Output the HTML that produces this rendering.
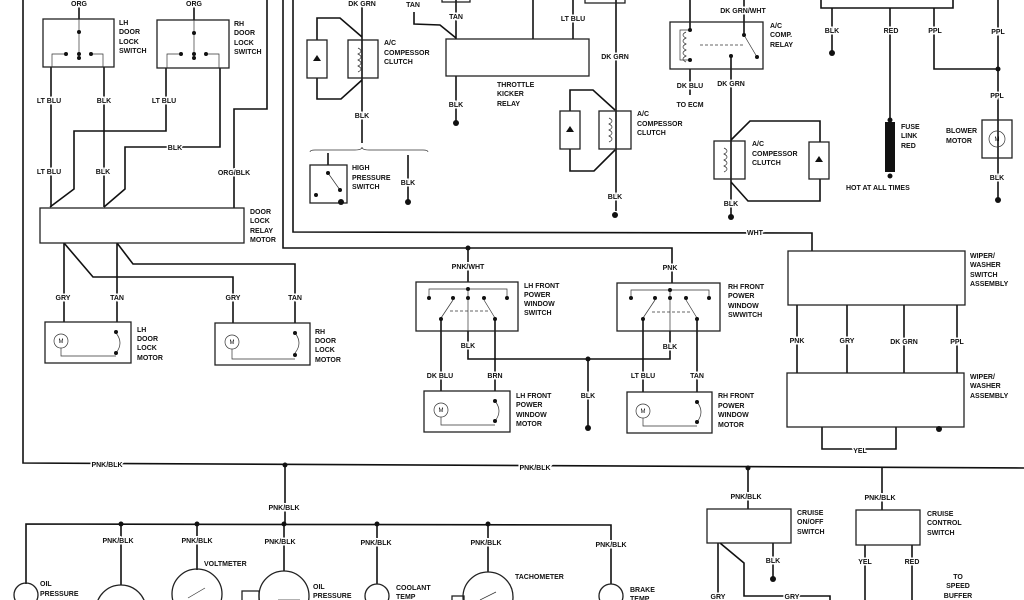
<!DOCTYPE html>
<html><head><meta charset="utf-8"><style>
html,body{margin:0;padding:0;background:#fff;width:1024px;height:600px;overflow:hidden;}
svg{display:block}
text{font-family:"Liberation Sans",sans-serif;font-size:7px;font-weight:bold;fill:#111;}
.l{stroke:#fff;stroke-width:3px;paint-order:stroke;}
.w{fill:none;stroke:#111;stroke-width:1.6}
.t{fill:none;stroke:#333;stroke-width:0.7}
.b{fill:none;stroke:#222;stroke-width:1.3}
.c{text-anchor:middle}
.m{font-size:6px;font-weight:normal;text-anchor:middle}
</style></head><body>
<svg width="1024" height="600" viewBox="0 0 1024 600" xmlns="http://www.w3.org/2000/svg" overflow="hidden">
<g class="w">
<polyline points="23,0 23,463 1024,468"/>
<polyline points="267,0 267,109 234,109 234,208"/>
<polyline points="283,0 283,248 672,248 672,283"/>
<polyline points="293,0 293,232 812,233 812,251"/>
<line x1="79" y1="6" x2="79" y2="19"/>
<line x1="51" y1="67" x2="51" y2="207"/>
<line x1="104" y1="67" x2="104" y2="207"/>
<line x1="194" y1="6" x2="194" y2="20"/>
<polyline points="166,68 166,131 74,131 74,189 50,207"/>
<polyline points="220,68 220,147 125,147 125,189 104,207"/>
<polyline points="64,243 64,322"/>
<polyline points="64,243 93,277 233,277 233,323"/>
<polyline points="117,243 117,322"/>
<polyline points="117,243 133,264 295,264 295,323"/>
<line x1="362" y1="0" x2="362" y2="143"/>
<polyline points="362,37 340,18 317,18 317,40"/>
<polyline points="317,78 317,99 341,99 362,80"/>
<line x1="328" y1="153" x2="328" y2="165"/>
<line x1="408" y1="155" x2="408" y2="200"/>
<line x1="456" y1="0" x2="456" y2="39"/>
<polyline points="414,12 414,24 440,25 456,38"/>
<line x1="533" y1="0" x2="533" y2="39"/>
<line x1="573" y1="0" x2="573" y2="39"/>
<line x1="616" y1="0" x2="616" y2="211"/>
<line x1="456" y1="76" x2="456" y2="121"/>
<polyline points="615,110 593,90 570,90 570,111"/>
<polyline points="570,149 570,171 594,171 615,150"/>
<line x1="690" y1="0" x2="690" y2="30"/>
<line x1="744" y1="0" x2="744" y2="35"/>
<line x1="690" y1="69" x2="690" y2="95"/>
<line x1="731" y1="56" x2="731" y2="215"/>
<polyline points="731,140 750,121 820,121 820,142"/>
<polyline points="820,179 820,201 748,201 731,182"/>
<polyline points="821,0 821,8 953,8 953,0"/>
<line x1="832" y1="8" x2="832" y2="52"/>
<line x1="890" y1="8" x2="890" y2="122"/>
<polyline points="934,8 934,69 998,69"/>
<line x1="998" y1="0" x2="998" y2="200"/>
<line x1="468" y1="248" x2="468" y2="282"/>
<line x1="441" y1="319" x2="441" y2="391"/>
<line x1="495" y1="319" x2="495" y2="391"/>
<polyline points="468,331 468,359 670,359 670,331"/>
<line x1="588" y1="359" x2="588" y2="428"/>
<line x1="643" y1="319" x2="643" y2="392"/>
<line x1="697" y1="319" x2="697" y2="392"/>
<line x1="797" y1="305" x2="797" y2="373"/>
<line x1="847" y1="305" x2="847" y2="373"/>
<line x1="904" y1="305" x2="904" y2="373"/>
<line x1="957" y1="305" x2="957" y2="373"/>
<polyline points="822,427 822,449 896,449 896,427"/>
<line x1="285" y1="465" x2="285" y2="524"/>
<polyline points="26,584 26,524 611,525 611,584"/>
<line x1="121" y1="524" x2="121" y2="585"/>
<line x1="197" y1="524" x2="197" y2="570"/>
<line x1="284" y1="524" x2="284" y2="571"/>
<line x1="377" y1="524" x2="377" y2="584"/>
<line x1="488" y1="524" x2="488" y2="572"/>
<line x1="748" y1="468" x2="748" y2="509"/>
<polyline points="882,468 882,510"/>
<line x1="773" y1="543" x2="773" y2="578"/>
<line x1="718" y1="543" x2="718" y2="600"/>
<polyline points="720,543 744,563 744,596 830,596 830,600"/>
<line x1="865" y1="545" x2="865" y2="600"/>
<line x1="912" y1="545" x2="912" y2="600"/>
</g>
<g class="b">
<rect x="43" y="19" width="71" height="48"/>
<rect x="157" y="20" width="72" height="48"/>
<rect x="40" y="208" width="204" height="35"/>
<rect x="45" y="322" width="86" height="41"/>
<rect x="215" y="323" width="95" height="42"/>
<rect x="348" y="40" width="30" height="38"/>
<rect x="307" y="40" width="20" height="38"/>
<rect x="310" y="165" width="37" height="38"/>
<rect x="446" y="39" width="143" height="37"/>
<rect x="442" y="-5" width="28" height="7"/>
<rect x="585" y="-5" width="40" height="8"/>
<rect x="599" y="111" width="32" height="38"/>
<rect x="560" y="111" width="20" height="38"/>
<rect x="670" y="22" width="93" height="47"/>
<rect x="714" y="141" width="31" height="38"/>
<rect x="809" y="142" width="20" height="37"/>
<rect x="982" y="120" width="30" height="38"/>
<rect x="416" y="282" width="102" height="49"/>
<rect x="617" y="283" width="103" height="48"/>
<rect x="424" y="391" width="86" height="41"/>
<rect x="627" y="392" width="85" height="41"/>
<rect x="788" y="251" width="177" height="54"/>
<rect x="787" y="373" width="177" height="54"/>
<rect x="707" y="509" width="84" height="34"/>
<rect x="856" y="510" width="64" height="35"/>
<circle cx="26" cy="595" r="12"/>
<circle cx="121" cy="610" r="25"/>
<circle cx="197" cy="594" r="25"/>
<circle cx="284" cy="596" r="25"/>
<circle cx="377" cy="596" r="12"/>
<circle cx="488" cy="597" r="25"/>
<circle cx="611" cy="596" r="12"/>
<rect x="242" y="591" width="17" height="12"/>
<rect x="452" y="596" width="12" height="8"/>
</g>
<rect x="885" y="122" width="10" height="50" fill="#111"/>
<g class="t">
<line x1="79" y1="19" x2="79" y2="58"/>
<polyline points="52,67 52,54 66,54"/><polyline points="103,67 103,54 91,54"/>
<line x1="194" y1="20" x2="194" y2="58"/>
<polyline points="167,68 167,54 181,54"/><polyline points="219,68 219,54 206,54"/>
<path d="M358,48 q6,3 0,6 q6,3 0,6 q6,3 0,6 q6,3 0,6"/>
<path d="M609,118 q6,3 0,6 q6,3 0,6 q6,3 0,6 q6,3 0,6"/>
<path d="M724,148 q6,3 0,6 q6,3 0,6 q6,3 0,6 q6,3 0,6"/>
<line x1="328" y1="173" x2="340" y2="190"/>
<path d="M310,152 q0,-2 5,-2 h40 q7,0 7,-3 q0,3 7,3 h54 q5,0 5,2"/>
<path d="M686,32 q-6,3 0,6 q-6,3 0,6 q-6,3 0,6 q-6,3 0,6 q-6,3 0,6"/>
<polyline points="690,30 680,30 680,60 690,60"/>
<line x1="700" y1="45" x2="744" y2="45" stroke-dasharray="3,2"/>
<line x1="744" y1="35" x2="757" y2="57"/>
<circle cx="997" cy="139" r="8"/>
<circle cx="61" cy="341" r="7"/><circle cx="232" cy="342" r="7"/>
<circle cx="441" cy="410" r="7"/><circle cx="643" cy="411" r="7"/>
<polyline points="61,348 61,356 116,356"/><polyline points="232,349 232,359 295,359"/>
<polyline points="441,417 441,425 495,425"/><polyline points="643,418 643,426 697,426"/>
<path d="M116,333 q8,10 0,20"/><path d="M295,333 q8,10 0,20"/>
<path d="M495,401 q8,10 0,20"/><path d="M697,402 q8,10 0,20"/>
<polyline points="429,298 429,289 507,289 507,298"/>
<line x1="468" y1="289" x2="468" y2="331"/>
<line x1="453" y1="300" x2="441" y2="318"/><line x1="484" y1="300" x2="495" y2="318"/>
<line x1="450" y1="311" x2="490" y2="311" stroke-dasharray="3,2"/>
<polyline points="631,298 631,290 709,290 709,298"/>
<line x1="670" y1="290" x2="670" y2="331"/>
<line x1="655" y1="300" x2="643" y2="318"/><line x1="686" y1="300" x2="697" y2="318"/>
<line x1="652" y1="312" x2="692" y2="312" stroke-dasharray="3,2"/>
<line x1="188" y1="598" x2="205" y2="588"/><line x1="278" y1="600" x2="300" y2="600"/>
<line x1="480" y1="600" x2="496" y2="592"/>
</g>
<g>
<text class="m" x="61" y="343">M</text><text class="m" x="232" y="344">M</text>
<text class="m" x="441" y="412">M</text><text class="m" x="643" y="413">M</text><text class="m" x="997" y="141">M</text>
</g>
<g fill="#111">
<polygon points="317,55 313,61 321,61"/><polygon points="570,126 566,132 574,132"/><polygon points="819,156 815,162 823,162"/>
<circle cx="79" cy="32" r="2"/><circle cx="66" cy="54" r="2"/><circle cx="79" cy="54" r="2"/><circle cx="91" cy="54" r="2"/><circle cx="79" cy="58" r="2"/>
<circle cx="194" cy="33" r="2"/><circle cx="181" cy="54" r="2"/><circle cx="194" cy="54" r="2"/><circle cx="206" cy="54" r="2"/><circle cx="194" cy="58" r="2"/>
<circle cx="328" cy="173" r="2"/><circle cx="340" cy="190" r="2"/><circle cx="341" cy="202" r="3"/><circle cx="316" cy="195" r="2"/>
<circle cx="408" cy="202" r="3"/><circle cx="456" cy="123" r="3"/><circle cx="615" cy="215" r="3"/><circle cx="731" cy="217" r="3"/>
<circle cx="690" cy="30" r="2"/><circle cx="690" cy="60" r="2"/><circle cx="744" cy="35" r="2"/><circle cx="757" cy="57" r="2"/><circle cx="731" cy="56" r="2"/>
<circle cx="832" cy="53" r="3"/><circle cx="890" cy="120" r="2.5"/><circle cx="890" cy="176" r="2.5"/><circle cx="998" cy="69" r="2.5"/><circle cx="998" cy="200" r="3"/>
<circle cx="116" cy="332" r="2"/><circle cx="116" cy="353" r="2"/><circle cx="295" cy="333" r="2"/><circle cx="295" cy="355" r="2"/>
<circle cx="495" cy="401" r="2"/><circle cx="495" cy="421" r="2"/><circle cx="697" cy="402" r="2"/><circle cx="697" cy="422" r="2"/>
<circle cx="468" cy="248" r="2.5"/><circle cx="588" cy="359" r="2.5"/><circle cx="588" cy="428" r="3"/>
<circle cx="468" cy="289" r="2"/><circle cx="429" cy="298" r="2"/><circle cx="453" cy="298" r="2"/><circle cx="468" cy="298" r="2"/><circle cx="484" cy="298" r="2"/><circle cx="507" cy="298" r="2"/><circle cx="441" cy="319" r="2"/><circle cx="495" cy="319" r="2"/>
<circle cx="670" cy="290" r="2"/><circle cx="631" cy="298" r="2"/><circle cx="655" cy="298" r="2"/><circle cx="670" cy="298" r="2"/><circle cx="686" cy="298" r="2"/><circle cx="709" cy="298" r="2"/><circle cx="643" cy="319" r="2"/><circle cx="697" cy="319" r="2"/>
<circle cx="939" cy="429" r="3"/>
<circle cx="285" cy="465" r="2.5"/><circle cx="748" cy="468" r="2.5"/>
<circle cx="121" cy="524" r="2.5"/><circle cx="197" cy="524" r="2.5"/><circle cx="284" cy="524" r="2.5"/><circle cx="377" cy="524" r="2.5"/><circle cx="488" cy="524" r="2.5"/>
<circle cx="773" cy="579" r="3"/>
</g>
<g class="l">
<text class="c" x="79" y="6">ORG</text><text class="c" x="194" y="6">ORG</text>
<text class="c" x="49" y="103">LT BLU</text><text class="c" x="104" y="103">BLK</text>
<text class="c" x="164" y="103">LT BLU</text>
<text class="c" x="175" y="150">BLK</text>
<text class="c" x="49" y="174">LT BLU</text><text class="c" x="103" y="174">BLK</text>
<text class="c" x="234" y="175">ORG/BLK</text>
<text class="c" x="63" y="300">GRY</text><text class="c" x="117" y="300">TAN</text>
<text class="c" x="233" y="300">GRY</text><text class="c" x="295" y="300">TAN</text>
<text class="c" x="362" y="6">DK GRN</text><text class="c" x="362" y="118">BLK</text>
<text class="c" x="408" y="185">BLK</text>
<text class="c" x="413" y="7">TAN</text><text class="c" x="456" y="19">TAN</text>
<text class="c" x="573" y="21">LT BLU</text><text class="c" x="615" y="59">DK GRN</text>
<text class="c" x="456" y="107">BLK</text><text class="c" x="615" y="199">BLK</text>
<text class="c" x="743" y="13">DK GRN/WHT</text>
<text class="c" x="690" y="88">DK BLU</text><text class="c" x="690" y="107">TO ECM</text>
<text class="c" x="731" y="86">DK GRN</text><text class="c" x="731" y="206">BLK</text>
<text class="c" x="832" y="33">BLK</text><text class="c" x="891" y="33">RED</text>
<text class="c" x="935" y="33">PPL</text><text class="c" x="998" y="34">PPL</text>
<text class="c" x="997" y="98">PPL</text><text class="c" x="997" y="180">BLK</text>
<text class="c" x="755" y="235">WHT</text>
<text class="c" x="468" y="269">PNK/WHT</text><text class="c" x="670" y="270">PNK</text>
<text class="c" x="468" y="348">BLK</text><text class="c" x="670" y="349">BLK</text>
<text class="c" x="440" y="378">DK BLU</text><text class="c" x="495" y="378">BRN</text>
<text class="c" x="588" y="398">BLK</text>
<text class="c" x="643" y="378">LT BLU</text><text class="c" x="697" y="378">TAN</text>
<text class="c" x="797" y="343">PNK</text><text class="c" x="847" y="343">GRY</text>
<text class="c" x="904" y="344">DK GRN</text><text class="c" x="957" y="344">PPL</text>
<text class="c" x="860" y="453">YEL</text>
<text class="c" x="107" y="467">PNK/BLK</text><text class="c" x="535" y="470">PNK/BLK</text>
<text class="c" x="284" y="510">PNK/BLK</text>
<text class="c" x="118" y="543">PNK/BLK</text><text class="c" x="197" y="543">PNK/BLK</text><text class="c" x="280" y="544">PNK/BLK</text><text class="c" x="376" y="545">PNK/BLK</text><text class="c" x="486" y="545">PNK/BLK</text><text class="c" x="611" y="547">PNK/BLK</text>
<text class="c" x="746" y="499">PNK/BLK</text><text class="c" x="880" y="500">PNK/BLK</text>
<text class="c" x="773" y="563">BLK</text>
<text class="c" x="865" y="564">YEL</text><text class="c" x="912" y="564">RED</text>
<text class="c" x="718" y="599">GRY</text><text class="c" x="792" y="599">GRY</text>
</g>
<g>
<text x="119" y="25">LH</text><text x="119" y="34">DOOR</text><text x="119" y="44">LOCK</text><text x="119" y="53">SWITCH</text>
<text x="234" y="26">RH</text><text x="234" y="35">DOOR</text><text x="234" y="45">LOCK</text><text x="234" y="54">SWITCH</text>
<text x="250" y="214">DOOR</text><text x="250" y="223">LOCK</text><text x="250" y="233">RELAY</text><text x="250" y="242">MOTOR</text>
<text x="137" y="332">LH</text><text x="137" y="341">DOOR</text><text x="137" y="350">LOCK</text><text x="137" y="360">MOTOR</text>
<text x="315" y="334">RH</text><text x="315" y="343">DOOR</text><text x="315" y="352">LOCK</text><text x="315" y="362">MOTOR</text>
<text x="384" y="45">A/C</text><text x="384" y="55">COMPESSOR</text><text x="384" y="64">CLUTCH</text>
<text x="352" y="170">HIGH</text><text x="352" y="180">PRESSURE</text><text x="352" y="189">SWITCH</text>
<text x="497" y="87">THROTTLE</text><text x="497" y="96">KICKER</text><text x="497" y="106">RELAY</text>
<text x="637" y="116">A/C</text><text x="637" y="126">COMPESSOR</text><text x="637" y="135">CLUTCH</text>
<text x="770" y="28">A/C</text><text x="770" y="37">COMP.</text><text x="770" y="47">RELAY</text>
<text x="752" y="146">A/C</text><text x="752" y="156">COMPESSOR</text><text x="752" y="165">CLUTCH</text>
<text x="901" y="129">FUSE</text><text x="901" y="138">LINK</text><text x="901" y="148">RED</text>
<text x="846" y="190">HOT AT ALL TIMES</text>
<text x="946" y="133">BLOWER</text><text x="946" y="143">MOTOR</text>
<text x="524" y="288">LH FRONT</text><text x="524" y="297">POWER</text><text x="524" y="306">WINDOW</text><text x="524" y="315">SWITCH</text>
<text x="728" y="289">RH FRONT</text><text x="728" y="298">POWER</text><text x="728" y="308">WINDOW</text><text x="728" y="317">SWWITCH</text>
<text x="516" y="398">LH FRONT</text><text x="516" y="407">POWER</text><text x="516" y="417">WINDOW</text><text x="516" y="426">MOTOR</text>
<text x="718" y="398">RH FRONT</text><text x="718" y="408">POWER</text><text x="718" y="417">WINDOW</text><text x="718" y="427">MOTOR</text>
<text x="970" y="258">WIPER/</text><text x="970" y="267">WASHER</text><text x="970" y="277">SWITCH</text><text x="970" y="286">ASSEMBLY</text>
<text x="970" y="379">WIPER/</text><text x="970" y="388">WASHER</text><text x="970" y="398">ASSEMBLY</text>
<text x="797" y="515">CRUISE</text><text x="797" y="524">ON/OFF</text><text x="797" y="534">SWITCH</text>
<text x="927" y="516">CRUISE</text><text x="927" y="525">CONTROL</text><text x="927" y="535">SWITCH</text>
<text class="c" x="958" y="579">TO</text><text class="c" x="958" y="588">SPEED</text><text class="c" x="958" y="598">BUFFER</text>
<text x="40" y="586">OIL</text><text x="40" y="596">PRESSURE</text>
<text x="204" y="566">VOLTMETER</text>
<text x="313" y="589">OIL</text><text x="313" y="598">PRESSURE</text>
<text x="396" y="590">COOLANT</text><text x="396" y="599">TEMP</text>
<text x="515" y="579">TACHOMETER</text>
<text x="630" y="592">BRAKE</text><text x="630" y="601">TEMP</text>
</g>
</svg>
</body></html>
